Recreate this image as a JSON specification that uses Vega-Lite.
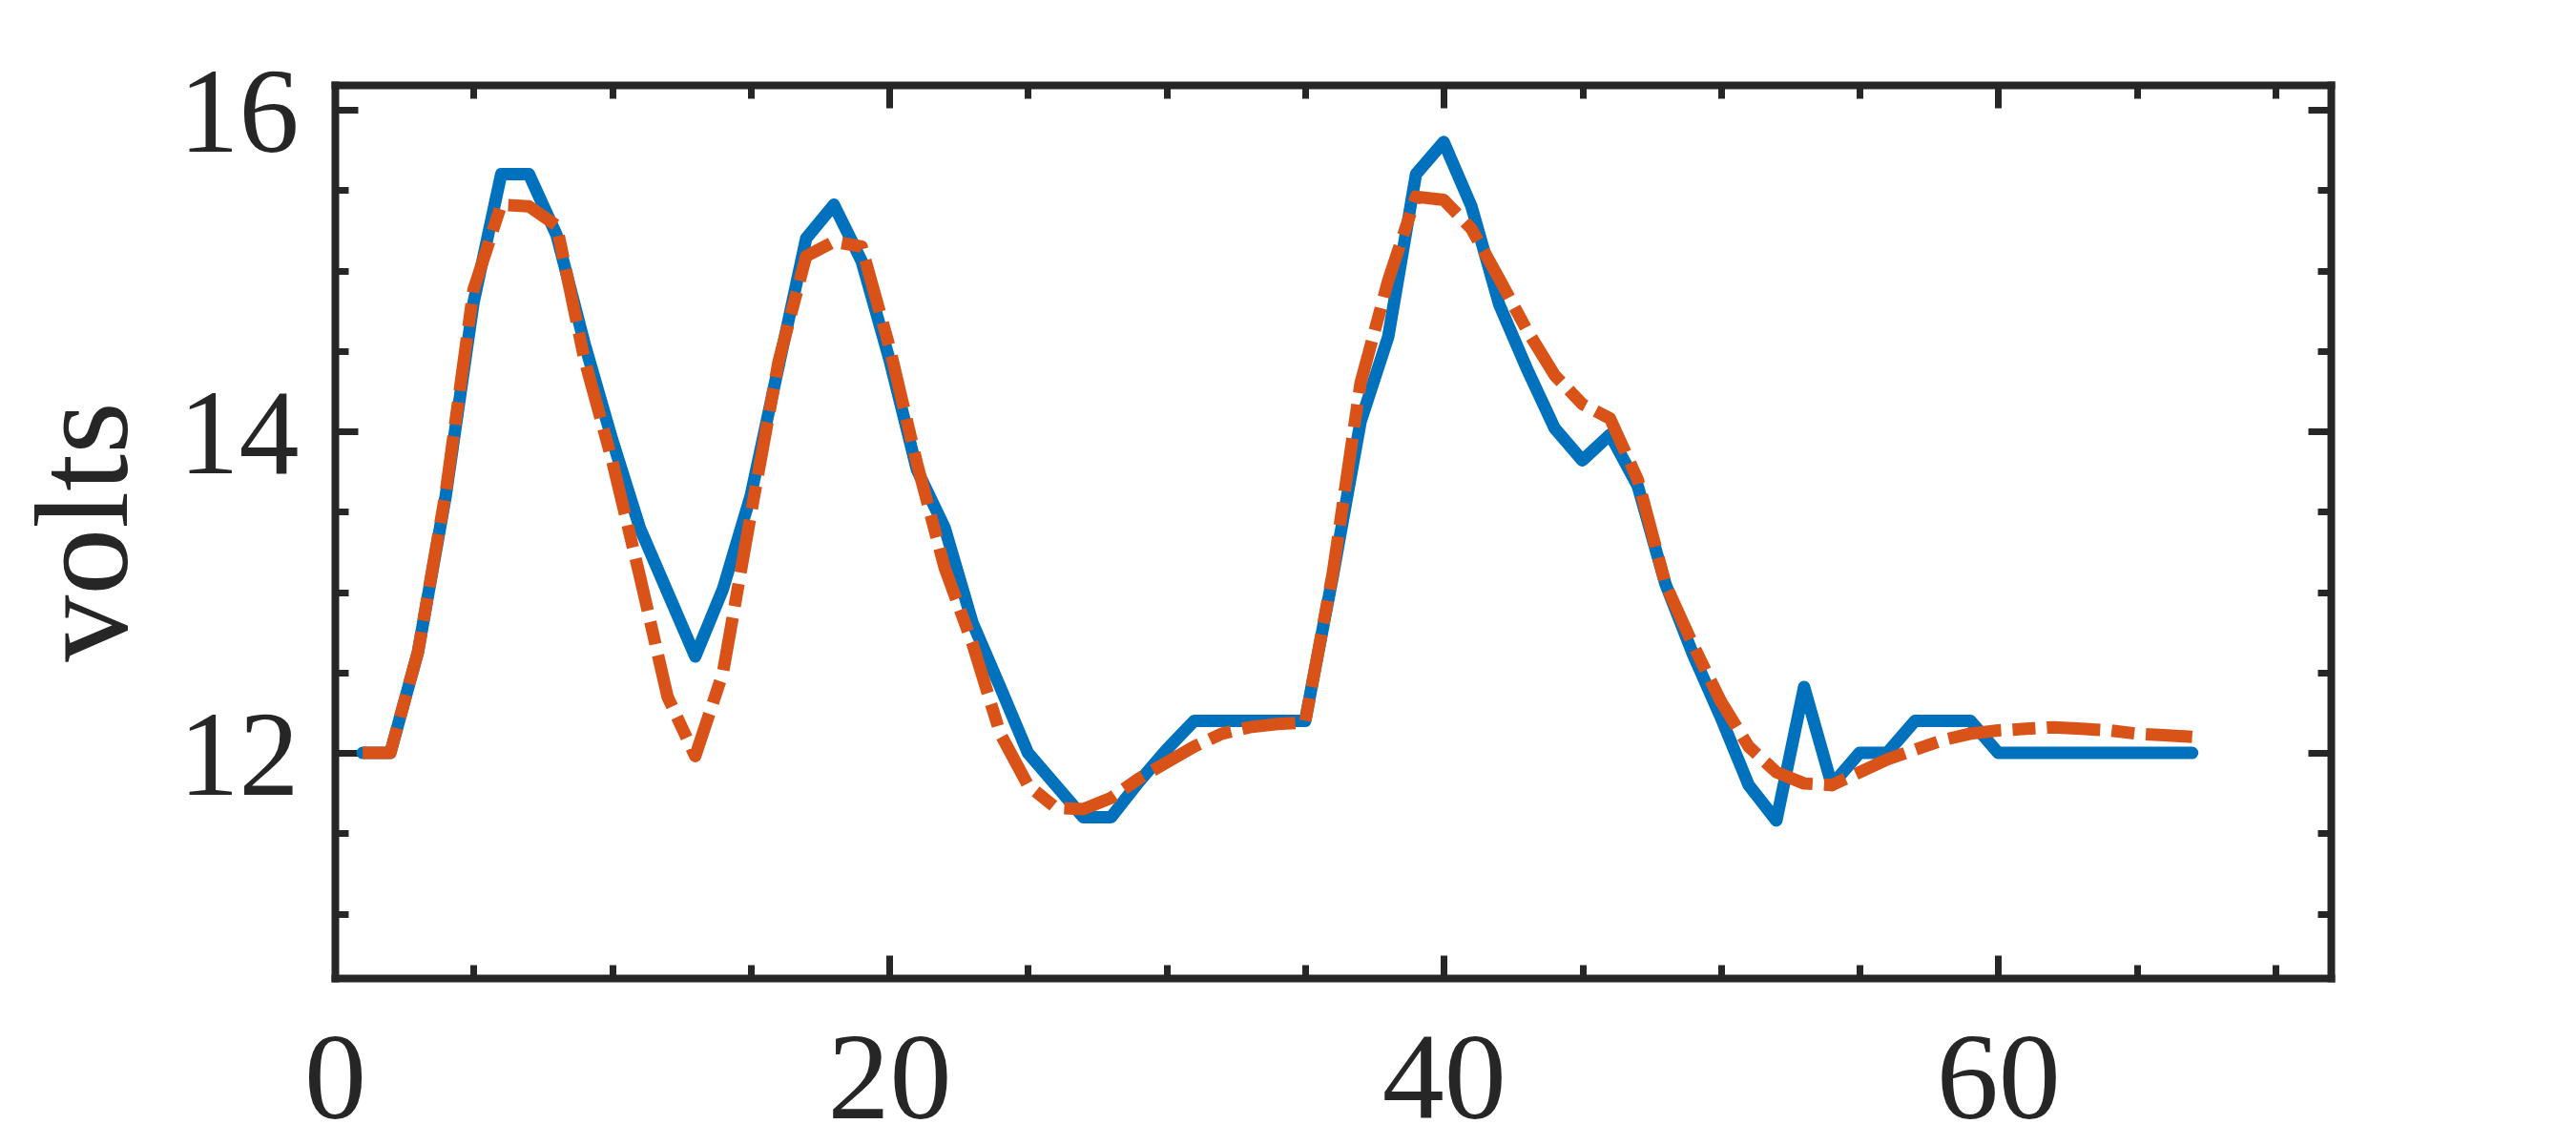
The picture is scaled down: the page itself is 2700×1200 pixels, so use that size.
{
  "$schema": "https://vega.github.io/schema/vega-lite/v6.json",
  "width": 2092,
  "height": 936,
  "autosize": {"type": "none"},
  "padding": {"left": 351, "top": 89, "right": 257, "bottom": 175},
  "background": "white",
  "config": {
    "view": {"stroke": null},
    "axis": {
      "domainColor": "#262626",
      "domainWidth": 8,
      "domainCap": "square",
      "tickColor": "#262626",
      "tickWidth": 7,
      "labelColor": "#262626",
      "labelFont": "Liberation Serif",
      "labelFontSize": 126,
      "labelLimit": 1000,
      "grid": false,
      "titleFont": "Liberation Serif",
      "titleFontSize": 140,
      "titleFontWeight": "normal",
      "titleColor": "#262626"
    }
  },
  "data": {
    "values": [
      {"t": 1, "volts": 12.0, "series": "measured"},
      {"t": 2, "volts": 12.0, "series": "measured"},
      {"t": 3, "volts": 12.63, "series": "measured"},
      {"t": 4, "volts": 13.6, "series": "measured"},
      {"t": 5, "volts": 14.8, "series": "measured"},
      {"t": 6, "volts": 15.6, "series": "measured"},
      {"t": 7, "volts": 15.6, "series": "measured"},
      {"t": 8, "volts": 15.22, "series": "measured"},
      {"t": 9, "volts": 14.55, "series": "measured"},
      {"t": 10, "volts": 13.95, "series": "measured"},
      {"t": 11, "volts": 13.4, "series": "measured"},
      {"t": 12, "volts": 13.0, "series": "measured"},
      {"t": 13, "volts": 12.6, "series": "measured"},
      {"t": 14, "volts": 13.02, "series": "measured"},
      {"t": 15, "volts": 13.6, "series": "measured"},
      {"t": 16, "volts": 14.4, "series": "measured"},
      {"t": 17, "volts": 15.2, "series": "measured"},
      {"t": 18, "volts": 15.41, "series": "measured"},
      {"t": 19, "volts": 15.06, "series": "measured"},
      {"t": 20, "volts": 14.45, "series": "measured"},
      {"t": 21, "volts": 13.76, "series": "measured"},
      {"t": 22, "volts": 13.4, "series": "measured"},
      {"t": 23, "volts": 12.81, "series": "measured"},
      {"t": 24, "volts": 12.41, "series": "measured"},
      {"t": 25, "volts": 12.0, "series": "measured"},
      {"t": 26, "volts": 11.8, "series": "measured"},
      {"t": 27, "volts": 11.6, "series": "measured"},
      {"t": 28, "volts": 11.6, "series": "measured"},
      {"t": 29, "volts": 11.82, "series": "measured"},
      {"t": 30, "volts": 12.02, "series": "measured"},
      {"t": 31, "volts": 12.2, "series": "measured"},
      {"t": 32, "volts": 12.2, "series": "measured"},
      {"t": 33, "volts": 12.2, "series": "measured"},
      {"t": 34, "volts": 12.2, "series": "measured"},
      {"t": 35, "volts": 12.2, "series": "measured"},
      {"t": 36, "volts": 13.1, "series": "measured"},
      {"t": 37, "volts": 14.06, "series": "measured"},
      {"t": 38, "volts": 14.59, "series": "measured"},
      {"t": 39, "volts": 15.6, "series": "measured"},
      {"t": 40, "volts": 15.8, "series": "measured"},
      {"t": 41, "volts": 15.4, "series": "measured"},
      {"t": 42, "volts": 14.79, "series": "measured"},
      {"t": 43, "volts": 14.39, "series": "measured"},
      {"t": 44, "volts": 14.02, "series": "measured"},
      {"t": 45, "volts": 13.82, "series": "measured"},
      {"t": 46, "volts": 13.98, "series": "measured"},
      {"t": 47, "volts": 13.66, "series": "measured"},
      {"t": 48, "volts": 13.05, "series": "measured"},
      {"t": 49, "volts": 12.61, "series": "measured"},
      {"t": 50, "volts": 12.22, "series": "measured"},
      {"t": 51, "volts": 11.8, "series": "measured"},
      {"t": 52, "volts": 11.58, "series": "measured"},
      {"t": 53, "volts": 12.41, "series": "measured"},
      {"t": 54, "volts": 11.8, "series": "measured"},
      {"t": 55, "volts": 12.0, "series": "measured"},
      {"t": 56, "volts": 12.0, "series": "measured"},
      {"t": 57, "volts": 12.2, "series": "measured"},
      {"t": 58, "volts": 12.2, "series": "measured"},
      {"t": 59, "volts": 12.2, "series": "measured"},
      {"t": 60, "volts": 12.0, "series": "measured"},
      {"t": 61, "volts": 12.0, "series": "measured"},
      {"t": 62, "volts": 12.0, "series": "measured"},
      {"t": 63, "volts": 12.0, "series": "measured"},
      {"t": 64, "volts": 12.0, "series": "measured"},
      {"t": 65, "volts": 12.0, "series": "measured"},
      {"t": 66, "volts": 12.0, "series": "measured"},
      {"t": 67, "volts": 12.0, "series": "measured"},
      {"t": 1, "volts": 12.0, "series": "model"},
      {"t": 2, "volts": 12.0, "series": "model"},
      {"t": 3, "volts": 12.63, "series": "model"},
      {"t": 4, "volts": 13.62, "series": "model"},
      {"t": 5, "volts": 14.88, "series": "model"},
      {"t": 6, "volts": 15.41, "series": "model"},
      {"t": 7, "volts": 15.4, "series": "model"},
      {"t": 8, "volts": 15.28, "series": "model"},
      {"t": 9, "volts": 14.45, "series": "model"},
      {"t": 10, "volts": 13.82, "series": "model"},
      {"t": 11, "volts": 13.1, "series": "model"},
      {"t": 12, "volts": 12.35, "series": "model"},
      {"t": 13, "volts": 11.98, "series": "model"},
      {"t": 14, "volts": 12.5, "series": "model"},
      {"t": 15, "volts": 13.48, "series": "model"},
      {"t": 16, "volts": 14.43, "series": "model"},
      {"t": 17, "volts": 15.09, "series": "model"},
      {"t": 18, "volts": 15.18, "series": "model"},
      {"t": 19, "volts": 15.15, "series": "model"},
      {"t": 20, "volts": 14.53, "series": "model"},
      {"t": 21, "volts": 13.8, "series": "model"},
      {"t": 22, "volts": 13.15, "series": "model"},
      {"t": 23, "volts": 12.68, "series": "model"},
      {"t": 24, "volts": 12.12, "series": "model"},
      {"t": 25, "volts": 11.8, "series": "model"},
      {"t": 26, "volts": 11.66, "series": "model"},
      {"t": 27, "volts": 11.65, "series": "model"},
      {"t": 28, "volts": 11.72, "series": "model"},
      {"t": 29, "volts": 11.84, "series": "model"},
      {"t": 30, "volts": 11.94, "series": "model"},
      {"t": 31, "volts": 12.04, "series": "model"},
      {"t": 32, "volts": 12.12, "series": "model"},
      {"t": 33, "volts": 12.16, "series": "model"},
      {"t": 34, "volts": 12.18, "series": "model"},
      {"t": 35, "volts": 12.19, "series": "model"},
      {"t": 36, "volts": 13.12, "series": "model"},
      {"t": 37, "volts": 14.3, "series": "model"},
      {"t": 38, "volts": 14.94, "series": "model"},
      {"t": 39, "volts": 15.46, "series": "model"},
      {"t": 40, "volts": 15.44, "series": "model"},
      {"t": 41, "volts": 15.26, "series": "model"},
      {"t": 42, "volts": 14.95, "series": "model"},
      {"t": 43, "volts": 14.63, "series": "model"},
      {"t": 44, "volts": 14.35, "series": "model"},
      {"t": 45, "volts": 14.17, "series": "model"},
      {"t": 46, "volts": 14.08, "series": "model"},
      {"t": 47, "volts": 13.7, "series": "model"},
      {"t": 48, "volts": 13.05, "series": "model"},
      {"t": 49, "volts": 12.67, "series": "model"},
      {"t": 50, "volts": 12.32, "series": "model"},
      {"t": 51, "volts": 12.04, "series": "model"},
      {"t": 52, "volts": 11.88, "series": "model"},
      {"t": 53, "volts": 11.81, "series": "model"},
      {"t": 54, "volts": 11.8, "series": "model"},
      {"t": 55, "volts": 11.88, "series": "model"},
      {"t": 56, "volts": 11.96, "series": "model"},
      {"t": 57, "volts": 12.02, "series": "model"},
      {"t": 58, "volts": 12.08, "series": "model"},
      {"t": 59, "volts": 12.12, "series": "model"},
      {"t": 60, "volts": 12.14, "series": "model"},
      {"t": 61, "volts": 12.15, "series": "model"},
      {"t": 62, "volts": 12.16, "series": "model"},
      {"t": 63, "volts": 12.15, "series": "model"},
      {"t": 64, "volts": 12.14, "series": "model"},
      {"t": 65, "volts": 12.12, "series": "model"},
      {"t": 66, "volts": 12.11, "series": "model"},
      {"t": 67, "volts": 12.1, "series": "model"}
    ]
  },
  "layer": [
    {
      "transform": [{"filter": "datum.series === 'measured'"}],
      "mark": {"type": "line", "color": "#0072BD", "strokeWidth": 13, "strokeJoin": "round", "strokeCap": "round", "clip": true},
      "encoding": {
        "x": {
          "field": "t", "type": "quantitative",
          "scale": {"domain": [0, 72], "nice": false, "zero": false},
          "axis": {
            "orient": "bottom", "title": null,
            "values": [0, 5, 10, 15, 20, 25, 30, 35, 40, 45, 50, 55, 60, 65, 70],
            "labelExpr": "datum.value % 20 === 0 ? format(datum.value, 'd') : ''",
            "tickSize": {"condition": {"test": "datum.value % 20 === 0", "value": -24}, "value": -14},
            "labelFontSize": 130,
            "labelPadding": 67, "labelFlush": false, "labelOverlap": false
          }
        },
        "y": {
          "field": "volts", "type": "quantitative",
          "scale": {"domain": [10.6, 16.155], "nice": false, "zero": false},
          "axis": {
            "orient": "left", "title": "volts", "titlePadding": 26,
            "values": [11, 11.5, 12, 12.5, 13, 13.5, 14, 14.5, 15, 15.5, 16],
            "labelExpr": "datum.value % 2 === 0 ? format(datum.value, 'd') : ''",
            "tickSize": {"condition": {"test": "datum.value % 2 === 0", "value": -24}, "value": -14},
            "labelPadding": 62, "labelOffset": 5, "labelFlush": false, "labelOverlap": false
          }
        }
      }
    },
    {
      "transform": [{"filter": "datum.series === 'model'"}],
      "mark": {"type": "line", "color": "#D95319", "strokeWidth": 13, "strokeDash": [56, 12, 24, 12], "strokeCap": "butt", "strokeJoin": "round", "clip": true},
      "encoding": {
        "x": {
          "field": "t", "type": "quantitative",
          "scale": {"domain": [0, 72], "nice": false, "zero": false},
          "axis": {
            "orient": "top", "title": null, "labels": false,
            "values": [0, 5, 10, 15, 20, 25, 30, 35, 40, 45, 50, 55, 60, 65, 70],
            "tickSize": {"condition": {"test": "datum.value % 20 === 0", "value": -24}, "value": -14}
          }
        },
        "y": {
          "field": "volts", "type": "quantitative",
          "scale": {"domain": [10.6, 16.155], "nice": false, "zero": false},
          "axis": {
            "orient": "right", "title": null, "labels": false,
            "values": [11, 11.5, 12, 12.5, 13, 13.5, 14, 14.5, 15, 15.5, 16],
            "tickSize": {"condition": {"test": "datum.value % 2 === 0", "value": -24}, "value": -14}
          }
        }
      }
    }
  ],
  "resolve": {"axis": {"x": "independent", "y": "independent"}}
}
